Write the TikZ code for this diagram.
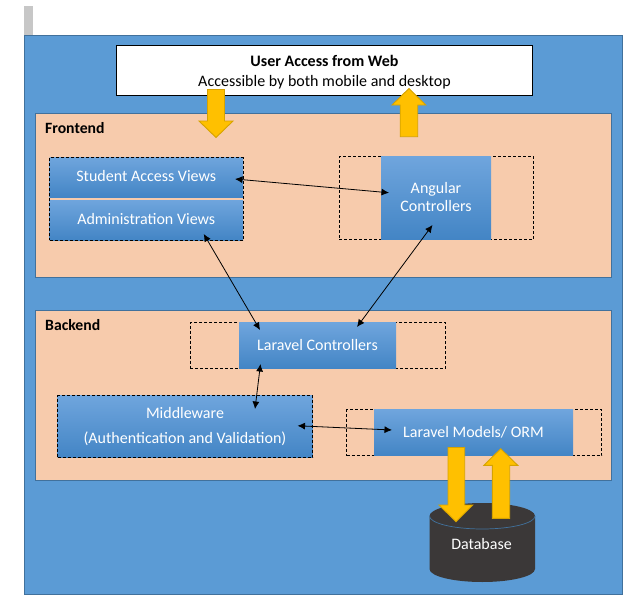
\documentclass[tikz,border=0pt]{standalone}
\usepackage{fontspec}
\setmainfont{Carlito}
\usetikzlibrary{arrows.meta}
\definecolor{outerblue}{HTML}{5B9BD5}
\definecolor{edgeblue}{HTML}{41719C}
\definecolor{peach}{HTML}{F7CBAC}
\definecolor{gradtop}{HTML}{6FA5DD}
\definecolor{gradbot}{HTML}{4385C5}
\definecolor{gold}{HTML}{FFC000}
\definecolor{goldedge}{HTML}{D6A300}
\definecolor{dbgray}{HTML}{3B3838}
\tikzset{
  box/.style={rectangle,inner sep=0pt,outer sep=0pt,anchor=center},
  panel/.style={box,draw=edgeblue,line width=0.9pt},
  peachpanel/.style={panel,fill=peach},
  tier/.style={box,shading=axis,top color=gradtop,middle color=outerblue,bottom color=gradbot,shading angle=0,text=white,font=\fontsize{16}{18}\selectfont,align=center},
  dashbox/.style={box,draw=black,line width=0.9pt,dash pattern=on 3pt off 2pt},
  title/.style={anchor=base west,inner sep=0pt,font=\fontsize{15.7}{17}\selectfont\bfseries},
  link/.style={line width=0.8pt,black,{Latex[length=7.5pt,width=7pt]}-{Latex[length=7.5pt,width=7pt]}},
  blockarrow/.style={fill=gold,draw=goldedge,line width=0.9pt,line join=miter},
}
\begin{document}
\begin{tikzpicture}[x=1pt,y=-1pt]
\useasboundingbox (0,0) rectangle (640,610);
\fill[white] (0,0) rectangle (640,610);
\fill[black!22] (24,6) rectangle (33,35);
\node[panel,fill=outerblue,minimum width=598.5pt,minimum height=559.5pt] (outer) at (323.25,314.75) {};
\node[box,draw=black,line width=0.9pt,fill=white,minimum width=416pt,minimum height=50pt,align=center,font=\fontsize{16}{20}\selectfont] (web) at (324.5,70.5) {\rule{0pt}{15pt}\textbf{User Access from Web}\\Accessible by both mobile and desktop};
\node[peachpanel,minimum width=576pt,minimum height=163.5pt] (front) at (323.5,195.25) {};
\node[title] (frontlabel) at (45,133.3) {Frontend};
\node[peachpanel,minimum width=576pt,minimum height=170pt] (back) at (323.5,395.5) {};
\node[title] (backlabel) at (45,330) {Backend};
% frontend
\node[tier,minimum width=193.5pt,minimum height=39.5pt] (student) at (146.25,177.25) {\rule[-2pt]{0pt}{0pt}Student Access Views};
\node[tier,minimum width=193.5pt,minimum height=40pt] (admin) at (146.25,220) {\rule[-2pt]{0pt}{0pt}Administration Views};
\node[dashbox,minimum width=193.5pt,minimum height=82.5pt] (viewsframe) at (146.25,198.75) {};
\node[dashbox,minimum width=194.5pt,minimum height=82.5pt] (angframe) at (436.25,197.75) {};
\node[tier,minimum width=110pt,minimum height=82.5pt] (angular) at (436,197.75) {Angular\\\rule[-2pt]{0pt}{0pt}Controllers};
% backend
\node[dashbox,minimum width=255.5pt,minimum height=46pt] (larframe) at (317.75,345.5) {};
\node[tier,minimum width=157pt,minimum height=46pt] (laravel) at (317.5,345.5) {\rule[-2pt]{0pt}{0pt}Laravel Controllers};
\node[tier,minimum width=255pt,minimum height=62pt,font=\fontsize{16}{25}\selectfont] (middle) at (185,426.5) {Middleware\\(Authentication and Validation)};
\node[dashbox,minimum width=255pt,minimum height=62pt] (midframe) at (185,426.5) {};
\node[dashbox,minimum width=255pt,minimum height=46pt] (modframe) at (474,432.5) {};
\node[tier,minimum width=199pt,minimum height=46pt] (models) at (473.5,432.5) {Laravel Models/ ORM};
% database
\fill[dbgray] (429.5,516) arc[start angle=180,end angle=360,x radius=52.75,y radius=13] -- (535,569) arc[start angle=0,end angle=180,x radius=52.75,y radius=13] -- cycle;
\draw[edgeblue,line width=0.7pt] (429.5,516) arc[start angle=180,end angle=0,x radius=52.75,y radius=13];
\node[inner sep=0pt,text=white,font=\fontsize{16}{18}\selectfont] (db) at (481.5,544) {Database};
% connectors
\draw[link] ([shift={(-8,1.75)}]student.east) -- ([shift={(8,-5)}]angular.west);
\draw[link] ([shift={(57.5,-6)}]admin.south) -- ([shift={(-57.5,7.5)}]laravel.north);
\draw[link] ([shift={(-3.5,-14)}]angular.south) -- ([shift={(39.5,4.5)}]laravel.north);
\draw[link] ([shift={(-57,-4.5)}]laravel.south) -- ([shift={(70,13.5)}]middle.north);
\draw[link] ([shift={(-15,-0.75)}]middle.east) -- ([shift={(18,-2.5)}]models.west);
% block arrows
\draw[blockarrow] (207.5,89.5) -- (224.5,89.5) -- (224.5,121) -- (233,121) -- (216,137.5) -- (199,121) -- (207.5,121) -- cycle;
\draw[blockarrow] (400.2,136.7) -- (417.7,136.7) -- (417.7,105) -- (425.7,105) -- (409,88.5) -- (392,105) -- (400.2,105) -- cycle;
\draw[blockarrow] (448,447.5) -- (464.7,447.5) -- (464.7,505) -- (472.7,505) -- (456,521.7) -- (439,505) -- (448,505) -- cycle;
\draw[blockarrow] (492.3,518.3) -- (509.7,518.3) -- (509.7,465.3) -- (517.7,465.3) -- (500.7,448.7) -- (484,465.3) -- (492.3,465.3) -- cycle;
\end{tikzpicture}
\end{document}
